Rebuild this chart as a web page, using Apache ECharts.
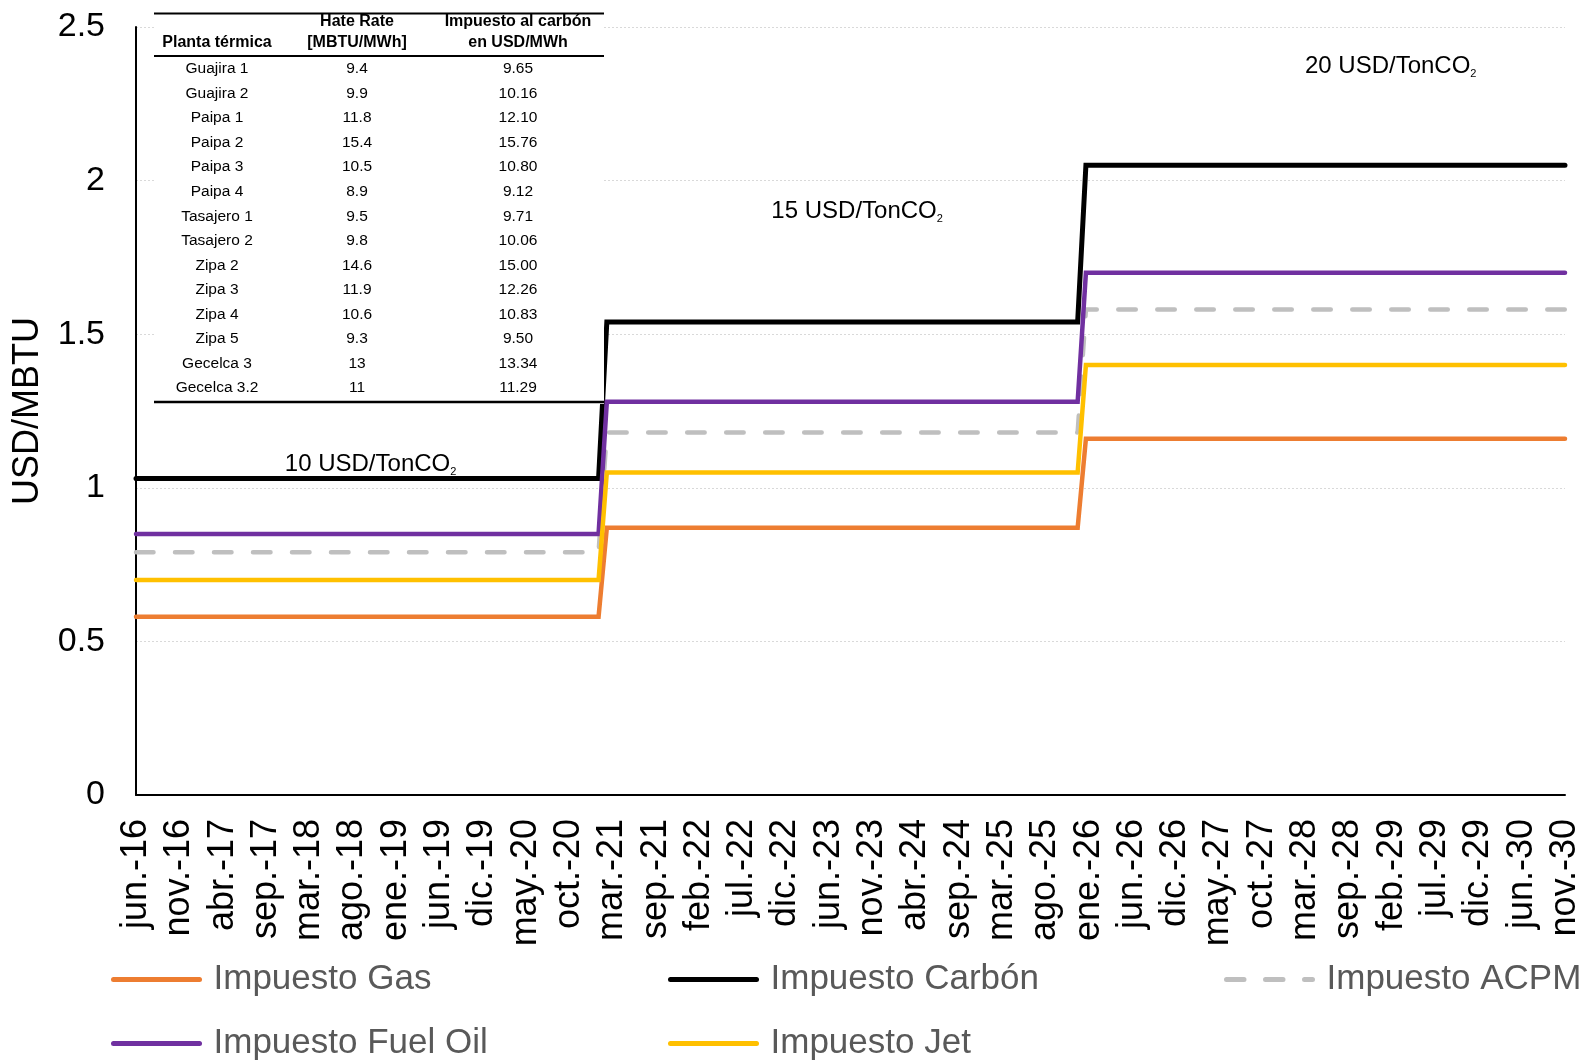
<!DOCTYPE html>
<html>
<head>
<meta charset="utf-8">
<script src="https://cdn.jsdelivr.net/npm/echarts@6/dist/echarts.min.js"></script>
<style>
  html, body { margin: 0; padding: 0; background: #ffffff; }
  #chart { width: 1583px; height: 1061px; }
</style>
</head>
<body>
<div id="chart"></div>
<script>
// ---- data -------------------------------------------------------------
// Months where each carbon-tax schedule starts / ends (step breakpoints)
const stepMonths = ['jun.-16', 'feb.-21', 'mar.-21', 'dic.-25', 'ene.-26', 'nov.-30'];

// Tax per fuel, USD/MBTU, at each breakpoint
const impuestoGas     = [0.58, 0.58, 0.87, 0.87, 1.16, 1.16];
const impuestoCarbon  = [1.03, 1.03, 1.54, 1.54, 2.05, 2.05];
const impuestoACPM    = [0.79, 0.79, 1.18, 1.18, 1.58, 1.58];
const impuestoFuelOil = [0.85, 0.85, 1.28, 1.28, 1.70, 1.70];
const impuestoJet     = [0.70, 0.70, 1.05, 1.05, 1.40, 1.40];

// Date labels printed under the axis
const tickLabels = ['jun.-16', 'nov.-16', 'abr.-17', 'sep.-17', 'mar.-18', 'ago.-18', 'ene.-19',
  'jun.-19', 'dic.-19', 'may.-20', 'oct.-20', 'mar.-21', 'sep.-21', 'feb.-22', 'jul.-22', 'dic.-22',
  'jun.-23', 'nov.-23', 'abr.-24', 'sep.-24', 'mar.-25', 'ago.-25', 'ene.-26', 'jun.-26', 'dic.-26',
  'may.-27', 'oct.-27', 'mar.-28', 'sep.-28', 'feb.-29', 'jul.-29', 'dic.-29', 'jun.-30', 'nov.-30'];

// Carbon price of each period
const carbonPrices = ['10 USD/TonCO', '15 USD/TonCO', '20 USD/TonCO'];

// Inset table: thermal plants
const plantas   = ['Guajira 1', 'Guajira 2', 'Paipa 1', 'Paipa 2', 'Paipa 3', 'Paipa 4', 'Tasajero 1',
                   'Tasajero 2', 'Zipa 2', 'Zipa 3', 'Zipa 4', 'Zipa 5', 'Gecelca 3', 'Gecelca 3.2'];
const heatRates = ['9.4', '9.9', '11.8', '15.4', '10.5', '8.9', '9.5', '9.8', '14.6', '11.9', '10.6', '9.3', '13', '11'];
const impuestos = ['9.65', '10.16', '12.10', '15.76', '10.80', '9.12', '9.71', '10.06', '15.00', '12.26',
                   '10.83', '9.50', '13.34', '11.29'];

// ---- helpers ----------------------------------------------------------
const FONT = '"Liberation Sans", Arial, Helvetica, sans-serif';
const MESES = ['ene', 'feb', 'mar', 'abr', 'may', 'jun', 'jul', 'ago', 'sep', 'oct', 'nov', 'dic'];

// months elapsed since jun.-16
function monthIndex(label) {
  const parts = label.split('.-');
  return (2000 + Number(parts[1]) - 2016) * 12 + MESES.indexOf(parts[0]) - 5;
}
const xEnd = monthIndex(stepMonths[stepMonths.length - 1]);
const tickStep = xEnd / (tickLabels.length - 1);

function points(values) {
  return stepMonths.map((m, i) => [monthIndex(m), values[i]]);
}

// annotation anchors (months, USD/MBTU)
const annotationAnchors = [[28.4, 1.077], [87.3, 1.90], [151.9, 2.373]];

// ---- inset table graphic ---------------------------------------------
const T = { left: 154, right: 604, top: 13.5, headLine: 56, bottom: 402, firstRow: 69, rowH: 24.55,
            cols: [217, 357, 518] };

function cell(text, x, y, bold) {
  return {
    type: 'text', x: x, y: y, z: 101,
    style: { text: text, align: 'center', verticalAlign: 'middle', fill: '#000',
             fontFamily: FONT, fontSize: bold ? 16 : 15.5, fontWeight: bold ? 'bold' : 'normal' }
  };
}
function hline(y, w) {
  return { type: 'line', z: 101, shape: { x1: T.left, y1: y, x2: T.right, y2: y },
           style: { stroke: '#000', lineWidth: w } };
}

const tableElements = [
  { type: 'rect', z: 100, shape: { x: T.left, y: 0, width: T.right - T.left, height: T.bottom + 2 },
    style: { fill: '#ffffff' } },
  hline(T.top, 2), hline(T.headLine, 2), hline(T.bottom, 2.5),
  cell('Planta térmica', T.cols[0], 42.5, true),
  cell('Hate Rate', T.cols[1], 22, true),
  cell('[MBTU/MWh]', T.cols[1], 42.5, true),
  cell('Impuesto al carbón', T.cols[2], 22, true),
  cell('en USD/MWh', T.cols[2], 42.5, true)
];
plantas.forEach((p, i) => {
  const y = T.firstRow + i * T.rowH;
  tableElements.push(cell(p, T.cols[0], y), cell(heatRates[i], T.cols[1], y), cell(impuestos[i], T.cols[2], y));
});

// ---- chart -------------------------------------------------------------
const LW = 4.5;
function lineSeries(name, values, color, extra) {
  return Object.assign({
    name: name, type: 'line', data: points(values),
    symbol: 'none', showSymbol: false, animation: false,
    lineStyle: { color: color, width: LW, cap: 'round', join: 'miter' },
    itemStyle: { color: color }
  }, extra || {});
}

const legendBase = {
  orient: 'vertical', top: 962, itemWidth: 86, itemHeight: 14, itemGap: 29, padding: 0,
  selectedMode: false, itemStyle: { opacity: 0 },
  lineStyle: { width: 5, cap: 'round' },
  textStyle: { fontSize: 35, color: '#595959', fontFamily: FONT, padding: [0, 0, 0, 9] }
};

const option = {
  backgroundColor: '#ffffff',
  animation: false,
  textStyle: { fontFamily: FONT },
  grid: { left: 136, right: 16, top: 27, bottom: 266, containLabel: false },
  xAxis: {
    type: 'value', min: 0, max: xEnd, interval: tickStep,
    axisLine: { show: true, lineStyle: { color: '#000', width: 2 } },
    axisTick: { show: false },
    splitLine: { show: false },
    axisLabel: {
      rotate: 90, fontSize: 36, color: '#000', margin: 24, fontFamily: FONT,
      formatter: v => {
        const k = Math.round(v / tickStep);
        return Math.abs(k * tickStep - v) < 1e-6 ? tickLabels[k] : '';
      }
    }
  },
  yAxis: {
    type: 'value', min: 0, max: 2.5, interval: 0.5,
    name: 'USD/MBTU', nameLocation: 'middle', nameGap: 90,
    nameTextStyle: { fontSize: 36, color: '#000', fontFamily: FONT },
    axisLine: { show: true, lineStyle: { color: '#000', width: 2 } },
    axisTick: { show: false },
    axisLabel: { fontSize: 34, color: '#000', margin: 31, fontFamily: FONT },
    splitLine: { show: true, lineStyle: { color: '#d9d9d9', width: 1, type: [2, 2] } }
  },
  legend: [
    Object.assign({}, legendBase, { left: 111, data: ['Impuesto Gas', 'Impuesto Fuel Oil'] }),
    Object.assign({}, legendBase, { left: 668, data: ['Impuesto Carbón', 'Impuesto Jet'] }),
    Object.assign({}, legendBase, { left: 1224, data: ['Impuesto ACPM'] })
  ],
  series: [
    lineSeries('Impuesto Gas', impuestoGas, '#ED7D31'),
    lineSeries('Impuesto Carbón', impuestoCarbon, '#000000', {
      lineStyle: { color: '#000000', width: 5, cap: 'round', join: 'miter' },
      markPoint: {
        silent: true, symbol: 'circle', symbolSize: 1,
        itemStyle: { color: 'rgba(0,0,0,0)' },
        label: {
          show: true, position: 'inside',
          formatter: p => '{t|' + p.name + '}{s|2}',
          rich: {
            t: { fontSize: 24, color: '#000', fontFamily: FONT, lineHeight: 26 },
            s: { fontSize: 11, color: '#000', fontFamily: FONT, verticalAlign: 'bottom', lineHeight: 22 }
          }
        },
        data: annotationAnchors.map((c, i) => ({ name: carbonPrices[i], coord: c }))
      }
    }),
    lineSeries('Impuesto ACPM', impuestoACPM, '#BFBFBF', {
      lineStyle: { color: '#BFBFBF', width: LW, cap: 'round', type: [17.5, 21.5] }
    }),
    lineSeries('Impuesto Fuel Oil', impuestoFuelOil, '#7030A0'),
    lineSeries('Impuesto Jet', impuestoJet, '#FFC000')
  ],
  graphic: { elements: tableElements }
};

const chart = echarts.init(document.getElementById('chart'));
chart.setOption(option);
</script>
</body>
</html>
